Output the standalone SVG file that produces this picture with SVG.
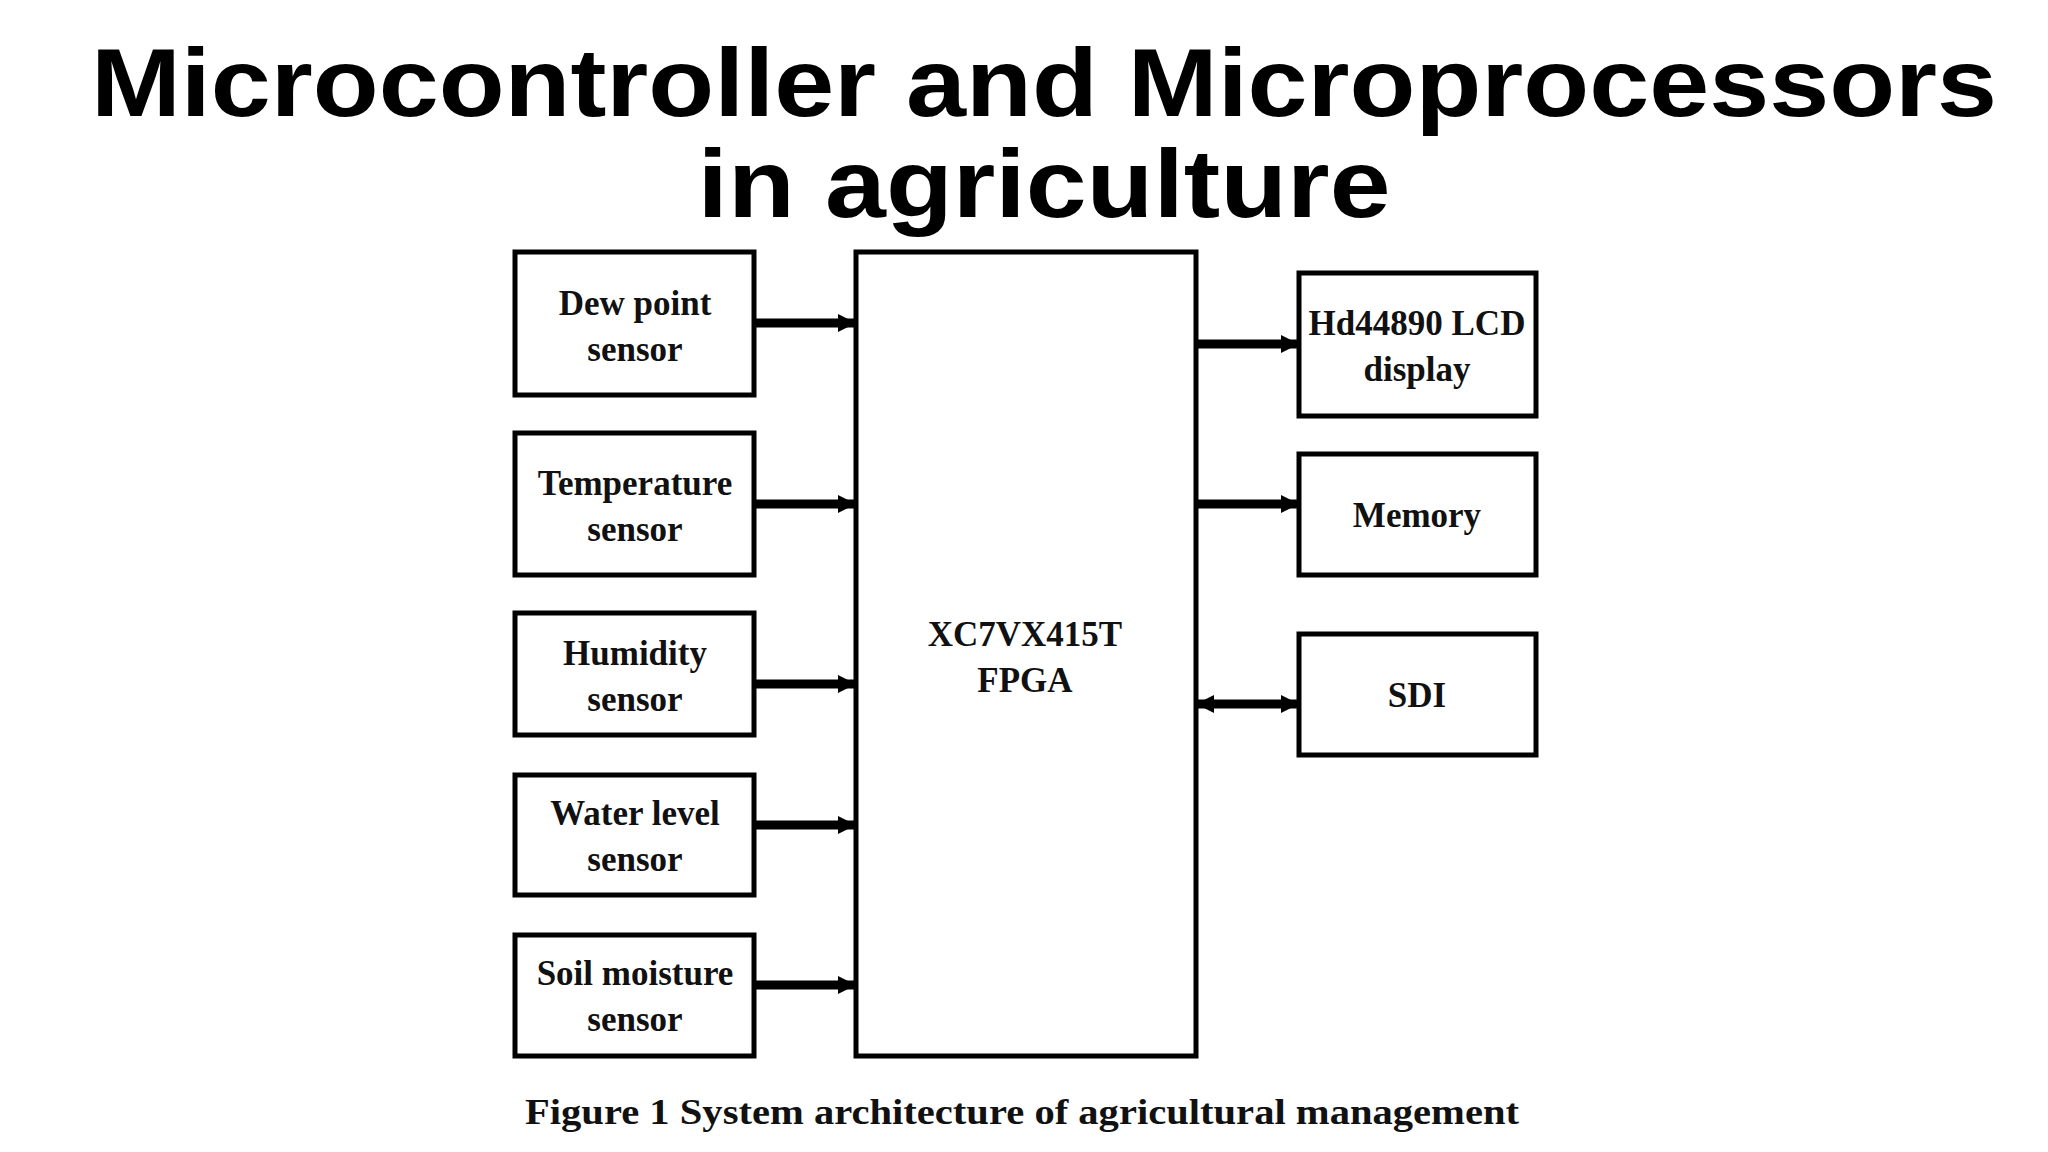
<svg xmlns="http://www.w3.org/2000/svg" width="2048" height="1152" viewBox="0 0 2048 1152">
<style>
.box{fill:#fff;stroke:#000;stroke-width:5}
.lbl{font-family:"Liberation Serif",serif;font-weight:bold;font-size:35px;text-anchor:middle;fill:#111}
.title{font-family:"Liberation Sans",Arial,sans-serif;font-weight:bold;font-size:96px;text-anchor:middle}
.arr{stroke:#000;stroke-width:9;fill:none}
</style>
<defs>
<marker id="ah" viewBox="0 0 10 10" refX="10" refY="5" markerWidth="2" markerHeight="2.6" orient="auto-start-reverse" markerUnits="strokeWidth"><path d="M0,0L10,5L0,10z" fill="#000"/></marker>
</defs>
<rect width="2048" height="1152" fill="#fff"/>
<text class="title" x="1044" y="116" textLength="1906" lengthAdjust="spacingAndGlyphs">Microcontroller and Microprocessors</text>
<text class="title" x="1044" y="217" textLength="693" lengthAdjust="spacingAndGlyphs">in agriculture</text>
<g id="connectors">
<line class="arr" x1="754" y1="323" x2="856" y2="323" marker-end="url(#ah)"/>
<line class="arr" x1="754" y1="504" x2="856" y2="504" marker-end="url(#ah)"/>
<line class="arr" x1="754" y1="684" x2="856" y2="684" marker-end="url(#ah)"/>
<line class="arr" x1="754" y1="825" x2="856" y2="825" marker-end="url(#ah)"/>
<line class="arr" x1="754" y1="985" x2="856" y2="985" marker-end="url(#ah)"/>
<line class="arr" x1="1196" y1="344" x2="1299" y2="344" marker-end="url(#ah)"/>
<line class="arr" x1="1196" y1="504" x2="1299" y2="504" marker-end="url(#ah)"/>
<line class="arr" x1="1196" y1="704" x2="1299" y2="704" marker-start="url(#ah)" marker-end="url(#ah)"/>
</g>
<g id="dew"><rect class="box" x="515" y="252" width="239" height="143"/><text class="lbl" x="635" y="315">Dew point</text><text class="lbl" x="635" y="361">sensor</text></g>
<g id="temp"><rect class="box" x="515" y="433" width="239" height="142"/><text class="lbl" x="635" y="495">Temperature</text><text class="lbl" x="635" y="541">sensor</text></g>
<g id="hum"><rect class="box" x="515" y="613" width="239" height="122"/><text class="lbl" x="635" y="665">Humidity</text><text class="lbl" x="635" y="711">sensor</text></g>
<g id="water"><rect class="box" x="515" y="775" width="239" height="120"/><text class="lbl" x="635" y="825">Water level</text><text class="lbl" x="635" y="871">sensor</text></g>
<g id="soil"><rect class="box" x="515" y="935" width="239" height="121"/><text class="lbl" x="635" y="985">Soil moisture</text><text class="lbl" x="635" y="1031">sensor</text></g>
<g id="fpga"><rect class="box" x="856" y="252" width="340" height="804"/><text class="lbl" x="1025" y="646">XC7VX415T</text><text class="lbl" x="1025" y="692">FPGA</text></g>
<g id="lcd"><rect class="box" x="1299" y="273" width="237" height="143"/><text class="lbl" x="1417" y="335">Hd44890 LCD</text><text class="lbl" x="1417" y="381">display</text></g>
<g id="mem"><rect class="box" x="1299" y="454" width="237" height="121"/><text class="lbl" x="1417" y="527">Memory</text></g>
<g id="sdi"><rect class="box" x="1299" y="634" width="237" height="121"/><text class="lbl" x="1417" y="707">SDI</text></g>
<text class="lbl" x="1022" y="1124" textLength="994" lengthAdjust="spacingAndGlyphs">Figure 1 System architecture of agricultural management</text>
</svg>
